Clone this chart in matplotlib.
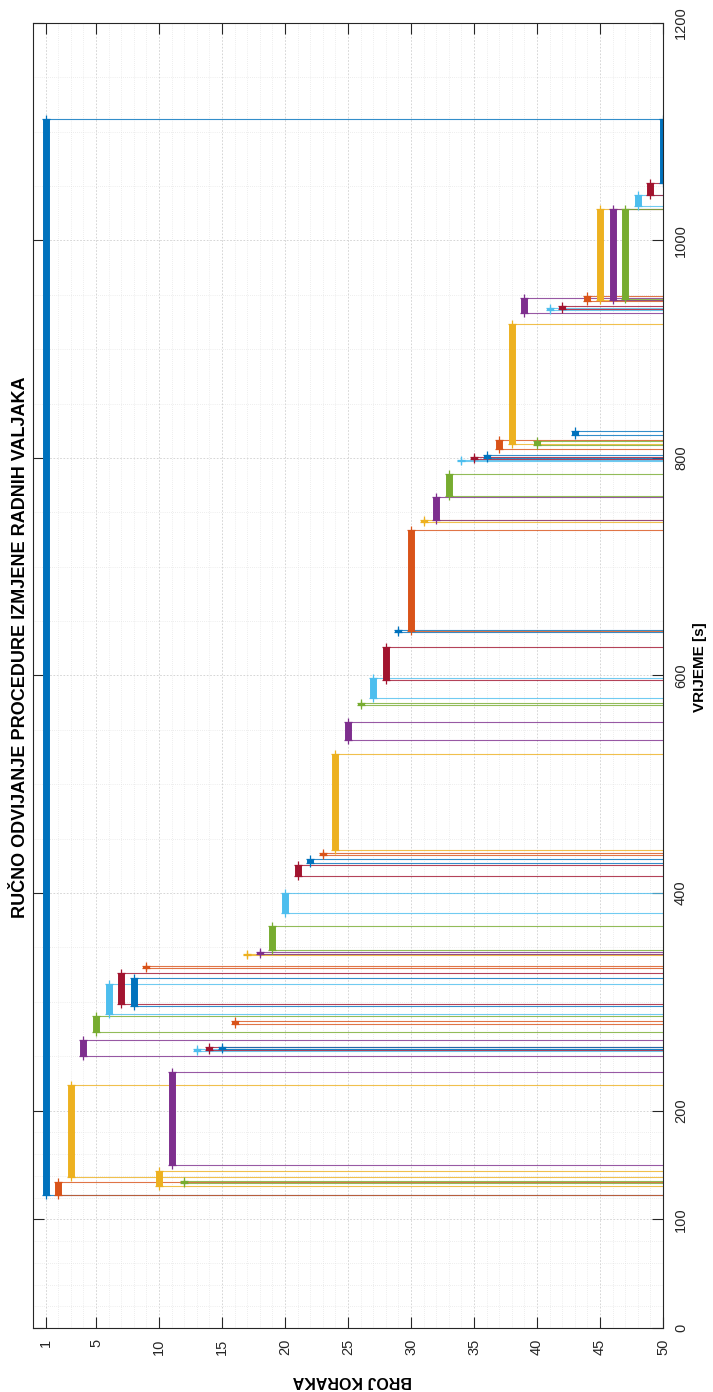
import matplotlib
matplotlib.use('Agg')
import matplotlib.pyplot as plt
from matplotlib.ticker import FixedLocator

plt.rcParams['font.family'] = ['Liberation Sans', 'DejaVu Sans']

# koraci i vremena (pocetak / kraj) u sekundama
koraci = list(range(1, 51))
pocetak = [122, 122, 139, 250, 272, 289, 298, 296, 331, 131,
           150, 133, 255, 256, 257, 280, 343, 344, 348, 382,
           416, 428, 435, 440, 541, 573, 579, 596, 640, 641,
           741, 743, 765, 797, 799, 800, 808, 813, 933, 812,
           936, 937, 821, 944, 945, 945, 946, 1032, 1042, 1053]
kraj = [1112, 134, 223, 265, 287, 316, 326, 322, 333, 144,
        235, 135, 257, 258, 258, 282, 344, 346, 370, 400,
        426, 431, 437, 528, 557, 575, 598, 626, 642, 734,
        743, 764, 785, 798, 801, 803, 817, 923, 947, 816,
        938, 940, 825, 949, 1029, 1029, 1029, 1042, 1053, 1112]

boje = ['#0072BD', '#D95319', '#EDB120', '#7E2F8E', '#77AC30', '#4DBEEE', '#A2142F']

step_ticks = [1, 5, 10, 15, 20, 25, 30, 35, 40, 45, 50]
time_ticks = [0, 100, 200, 400, 600, 800, 1000, 1200]

fig = plt.figure(figsize=(7.13, 13.92), dpi=100)
ax = fig.add_axes([33 / 713, 64 / 1392, 630 / 713, 1305 / 1392])

for i, (k, s, e) in enumerate(zip(koraci, pocetak, kraj)):
    c = boje[i % 7]
    ax.plot([k, 50], [s, s], color=c, lw=0.8, alpha=0.8)
    ax.plot([k, 50], [e, e], color=c, lw=0.8, alpha=0.8)
    ax.plot([k, k], [s, e], color=c, lw=5.0, solid_capstyle='butt')
    ax.plot([k, k], [s, e], color=c, lw=0, marker='+', ms=6, mew=0.9)

ax.set_xlim(0, 50)
ax.set_ylim(0, 1200)

ax.xaxis.set_major_locator(FixedLocator(step_ticks))
ax.xaxis.set_minor_locator(FixedLocator([k for k in koraci if k not in step_ticks]))
ax.yaxis.set_major_locator(FixedLocator(time_ticks))
minor_t = []
for a, b in zip(time_ticks[:-1], time_ticks[1:]):
    d = 20 if b - a == 100 else 50
    minor_t += list(range(a + d, b, d))
ax.yaxis.set_minor_locator(FixedLocator(minor_t))

ax.grid(True, which='major', color='#cfcfcf', lw=0.6, ls=(0, (2, 2)))
ax.grid(True, which='minor', color='#dedede', lw=0.5, ls=(0, (1, 2)))
ax.set_axisbelow(True)

ax.tick_params(which='major', direction='in', length=8, width=0.8, color='#262626',
               top=True, right=True, bottom=True, left=True, labelsize=10.5,
               labelcolor='#262626')
ax.tick_params(which='minor', length=0)
ax.tick_params(axis='x', labelbottom=True, labelrotation=90, pad=8)
ax.tick_params(axis='y', labelleft=False, labelright=True, labelrotation=90, pad=8)
for lab in ax.get_yticklabels():
    lab.set_va('center')
for sp in ax.spines.values():
    sp.set_color('#262626')
    sp.set_linewidth(0.8)

fig.text(21 / 713, 1 - 647 / 1392, 'RUČNO ODVIJANJE PROCEDURE IZMJENE RADNIH VALJAKA',
         rotation=90, ha='center', va='center', fontsize=13, fontweight='bold')
fig.text(700 / 713, 1 - 667 / 1392, 'VRIJEME [s]', rotation=90,
         ha='center', va='center', fontsize=11, fontweight='bold')
fig.text(352 / 713, 1 - 1381 / 1392, 'BROJ KORAKA', rotation=180,
         ha='center', va='center', fontsize=11.5, fontweight='bold')

fig.savefig('out.png', dpi=100, facecolor='white')
